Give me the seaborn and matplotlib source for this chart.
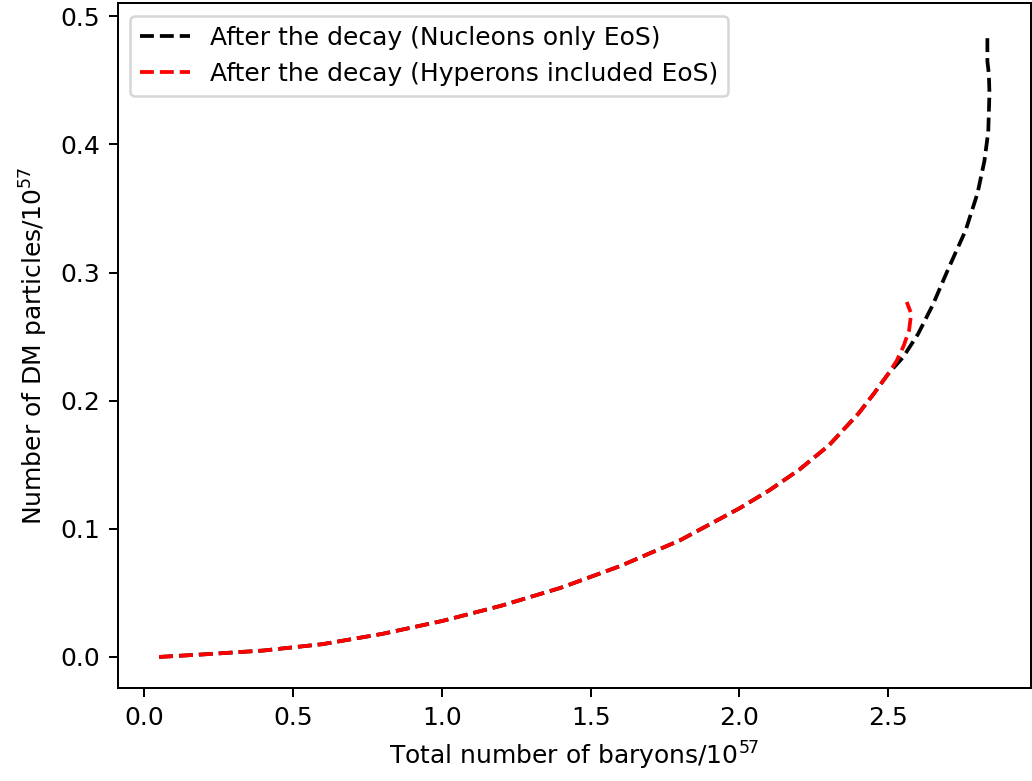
import matplotlib
matplotlib.use("Agg")
import matplotlib.pyplot as plt
import seaborn as sns
import pandas as pd

# Nucleons only EoS
baryons_nucleons = [0.05, 0.2, 0.4, 0.6, 0.8, 1.0, 1.2, 1.4, 1.6, 1.8, 2.0, 2.1, 2.2,
                    2.3, 2.4, 2.45, 2.5, 2.55, 2.6, 2.65, 2.7, 2.76, 2.80, 2.823,
                    2.836, 2.840, 2.838, 2.833, 2.833]
dm_nucleons = [0.0, 0.002, 0.005, 0.010, 0.018, 0.028, 0.040, 0.054, 0.071, 0.091,
               0.116, 0.130, 0.146, 0.165, 0.190, 0.205, 0.221, 0.234, 0.252, 0.275,
               0.302, 0.333, 0.362, 0.387, 0.410, 0.440, 0.455, 0.465, 0.486]

# Hyperons included EoS
baryons_hyperons = [0.05, 0.2, 0.4, 0.6, 0.8, 1.0, 1.2, 1.4, 1.6, 1.8, 2.0, 2.1, 2.2,
                    2.3, 2.4, 2.45, 2.5, 2.528, 2.552, 2.570, 2.577, 2.562]
dm_hyperons = [0.0, 0.002, 0.005, 0.010, 0.018, 0.028, 0.040, 0.054, 0.071, 0.091,
               0.116, 0.130, 0.146, 0.165, 0.190, 0.205, 0.221, 0.231, 0.243, 0.255,
               0.268, 0.277]

labels = ["After the decay (Nucleons only EoS)", "After the decay (Hyperons included EoS)"]

DPI = 180
fig = plt.figure(figsize=(1032 / DPI, 781 / DPI), dpi=DPI)
ax = fig.add_axes([0.114, 0.119, 0.885, 0.877])

df1 = pd.DataFrame({"x": baryons_nucleons, "y": dm_nucleons})
df2 = pd.DataFrame({"x": baryons_hyperons, "y": dm_hyperons})
sns.lineplot(data=df1, x="x", y="y", sort=False, estimator=None, color="black",
             linestyle="--", linewidth=1.5, label=labels[0], ax=ax)
sns.lineplot(data=df2, x="x", y="y", sort=False, estimator=None, color="red",
             linestyle="--", linewidth=1.5, label=labels[1], ax=ax)

ax.set_xlabel(r"Total number of baryons/$10^{57}$")
ax.set_ylabel(r"Number of DM particles/$10^{57}$")
ax.legend(loc="upper left")

fig.savefig("out.png", dpi=DPI)
